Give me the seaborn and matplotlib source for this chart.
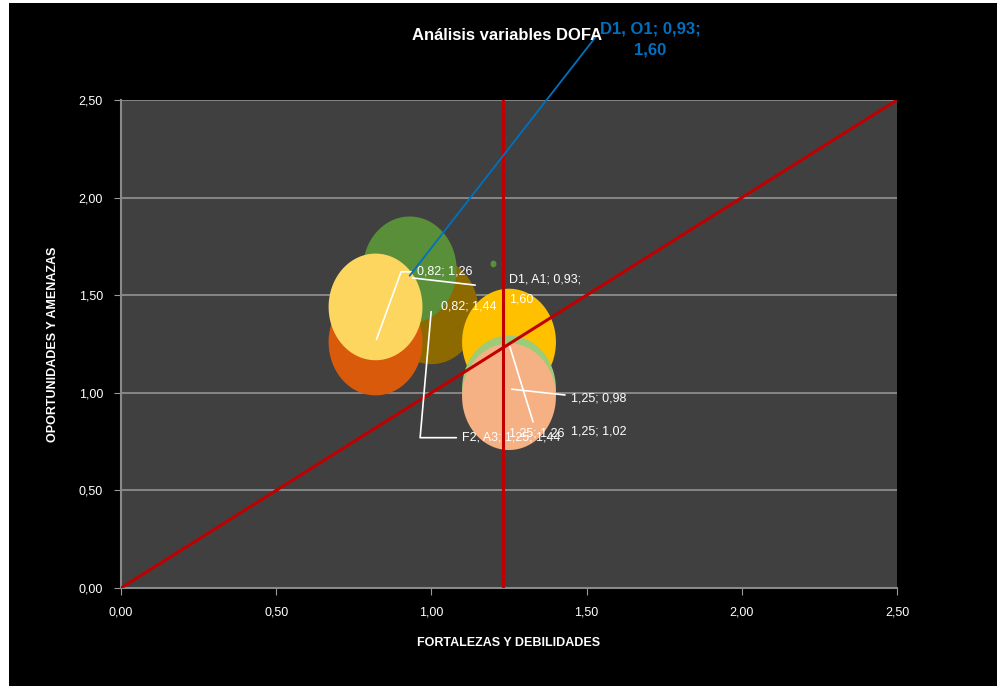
import matplotlib
matplotlib.use("Agg")
import matplotlib.pyplot as plt
import matplotlib.patches as mpatches
from matplotlib.path import Path
import numpy as np
import pandas as pd
import seaborn as sns

# bubble series (drawing order = Excel series order)
labels = ["A", "D1, O1", "O", "Y", "G", "LG", "P", "dot"]
xs = [1.00, 0.93, 0.82, 0.82, 1.25, 1.25, 1.25, 1.20]
ys = [1.42, 1.63, 1.26, 1.44, 1.26, 1.02, 0.98, 1.66]
sizes = [1, 1, 1, 1, 1, 1, 1, 0.004]
colors = ["#8C6A00", "#5A8F3A", "#D85A0A", "#FDD660", "#FFC000", "#9CCB7A", "#F5B084", "#5A8F3A"]

ticks = [0.0, 0.5, 1.0, 1.5, 2.0, 2.5]
tick_labels = ["0,00", "0,50", "1,00", "1,50", "2,00", "2,50"]
vline_x = 1.23

df = pd.DataFrame({"serie": labels, "x": xs, "y": ys, "s": sizes})

sns.set_style("dark")
plt.rcParams['font.family'] = ['Liberation Sans Narrow', 'Liberation Sans', 'DejaVu Sans']

# slightly tall ellipse marker (Excel bubbles are stretched by the plot aspect)
t = np.linspace(0, 2 * np.pi, 90)
ell = Path(np.column_stack([0.44 * np.cos(t), 0.5 * np.sin(t)]), closed=True)

fig = plt.figure(figsize=(9.97, 6.86), dpi=100, facecolor="white")
fig.patches.append(mpatches.Rectangle((9 / 997, 0), 1, 1 - 3 / 686, transform=fig.transFigure,
                                      facecolor="black", edgecolor="none", zorder=-10))
ax = fig.add_axes([121 / 997, 1 - 588 / 686, 776 / 997, 488 / 686])
ax.set_facecolor("#404040")

for i, row in df.iterrows():
    sns.scatterplot(x=[row.x], y=[row.y], s=row.s * 5900, color=colors[i], edgecolor="none",
                    marker=ell, ax=ax, zorder=2 + i * 0.01, legend=False)

ax.set_xlim(0, 2.5)
ax.set_ylim(0, 2.5)
ax.set_xticks(ticks)
ax.set_xticklabels(tick_labels)
ax.set_yticks(ticks)
ax.set_yticklabels(tick_labels)
ax.tick_params(colors="#9a9a9a", labelcolor="white", labelsize=9, length=5, direction="out",
               bottom=True, left=True, pad=8)
ax.grid(axis="y", color="#9a9a9a", lw=1.1)
ax.grid(axis="x", visible=False)
for side in ["top", "right"]:
    ax.spines[side].set_visible(False)
for side in ["left", "bottom"]:
    ax.spines[side].set_color("#8a8a8a")
    ax.spines[side].set_linewidth(1.5)

ax.plot([0, 2.5], [0, 2.5], color="#C00000", lw=2.2, zorder=5)
ax.axvline(vline_x, color="#C00000", lw=2.2, zorder=5)

# data labels with leader lines
lbl = dict(color="white", fontsize=9, zorder=10)
ld = dict(arrowstyle="-", color="white", lw=1.2)
ax.annotate("0,82; 1,26", xy=(xs[2], ys[2]), xytext=(0.955, 1.62), va="center",
            arrowprops=dict(ld, connectionstyle="angle,angleA=0,angleB=70,rad=0"), **lbl)
ax.annotate("", xy=(0.93, 1.59), xytext=(1.15, 1.55), arrowprops=ld)
ax.annotate("D1, A1; 0,93;\n1,60", xy=(1.25, 1.61), ha="left", va="top",
            linespacing=1.9, **lbl)
ax.annotate("0,82; 1,44", xy=(xs[0], ys[0]), xytext=(1.03, 1.44), va="center", **lbl)
ax.annotate("F2, A3; 1,25; 1,44", xy=(1.00, 1.43), xytext=(1.10, 0.77), va="center",
            arrowprops=dict(ld, connectionstyle="angle,angleA=0,angleB=85,rad=0"), **lbl)
ax.annotate("1,25; 1,26", xy=(1.25, 1.25), xytext=(1.25, 0.79), va="center",
            arrowprops=ld, **lbl)
ax.annotate("1,25; 0,98", xy=(1.25, 1.02), xytext=(1.45, 0.97), va="center",
            arrowprops=ld, **lbl)
ax.annotate("1,25; 1,02", xy=(1.25, 1.02), xytext=(1.45, 0.80), va="center", **lbl)
ax.annotate("D1, O1; 0,93;\n1,60", xy=(xs[1], ys[1] - 0.03), xytext=(1.705, 2.81), ha="center",
            va="center", color="#0070C0", fontsize=12, fontweight="bold", linespacing=1.5,
            annotation_clip=False, zorder=10,
            arrowprops=dict(arrowstyle="-", color="#0070C0", lw=1.3, shrinkA=0, shrinkB=0,
                            relpos=(0.0, 0.72)))

fig.text(507 / 997, 1 - 35 / 686, "Análisis variables DOFA", ha="center", va="center",
         color="white", fontsize=12, fontweight="bold")
ax.set_xlabel("FORTALEZAS Y DEBILIDADES", color="white", fontsize=9, fontweight="bold", labelpad=14)
ax.set_ylabel("OPORTUNIDADES Y AMENAZAS", color="white", fontsize=9, fontweight="bold", labelpad=14)

fig.savefig("out.png", dpi=100, facecolor=fig.get_facecolor())
